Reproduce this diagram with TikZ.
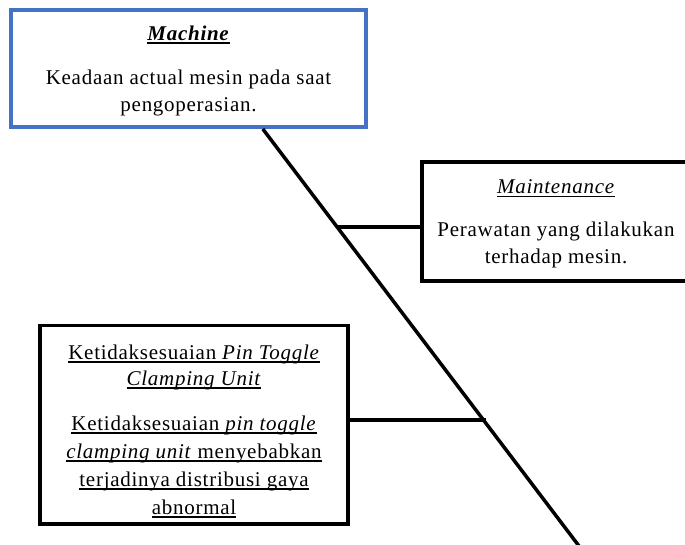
\documentclass[tikz,border=0pt]{standalone}
\usepackage{fontspec}
\setmainfont[LetterSpace=3.5]{Liberation Serif}
\usetikzlibrary{calc}
\newsavebox{\ulbox}
\newcommand{\myul}[1]{\sbox{\ulbox}{#1}\rlap{\rule[-3.5pt]{\wd\ulbox}{1.3pt}}\usebox{\ulbox}}
\definecolor{boxblue}{HTML}{4472C4}
\begin{document}
\begin{tikzpicture}[x=1pt,y=-1pt,
  box/.style={draw=black, line width=3.5pt, rectangle, inner sep=0pt},
  txt/.style={align=center, inner sep=0pt, font=\fontsize{21}{28}\selectfont},
  link/.style={draw=black, line width=3.5pt}]
\useasboundingbox (0,0) rectangle (685,545);
\clip (0,0) rectangle (685,545);
\fill[white] (0,0) rectangle (685,545);
% boxes
\node[box, draw=boxblue, line width=4pt, minimum width=355pt, minimum height=117pt] (machine) at (188.5,68.5) {};
\node[txt, font=\fontsize{21}{27}\selectfont] (machinetext) at (188.5,70.5)
  {\myul{\textbf{\textit{Machine}}}\\[17pt]
   Keadaan actual mesin pada saat\\ pengoperasian.};
\node[box, minimum width=268pt, minimum height=119pt] (maint) at (556,221.5) {};
\node[txt, font=\fontsize{21}{27}\selectfont] (mainttext) at (556,224)
  {\myul{\textit{Maintenance}}\\[16pt]
   Perawatan yang dilakukan\\ terhadap mesin.};
\node[box, minimum width=308pt, minimum height=198.5pt] (ket) at (194,424.75) {};
\node[txt] (kettext) at (194,431)
  {\myul{Ketidaksesuaian \textit{Pin Toggle}}\\[-2pt]
   \myul{\textit{Clamping Unit}}\\[17pt]
   \myul{Ketidaksesuaian \textit{pin toggle}}\\
   \myul{\textit{clamping unit} menyebabkan}\\
   \myul{terjadinya distribusi gaya}\\
   \myul{abnormal}};
% spine
\coordinate (spinetop) at ($(machine.south west)!0.707!(machine.south east)$);
\coordinate (spinebot) at (580.5,548);
\coordinate (j1) at (337.5,227);
\coordinate (j2) at (485.5,420);
\draw[link] (spinetop) -- (spinebot);
\draw[link] ([yshift=-5.5pt]maint.west) -- (j1);
\draw[link] ([yshift=4.75pt]ket.east) -- (j2);
\end{tikzpicture}
\end{document}
